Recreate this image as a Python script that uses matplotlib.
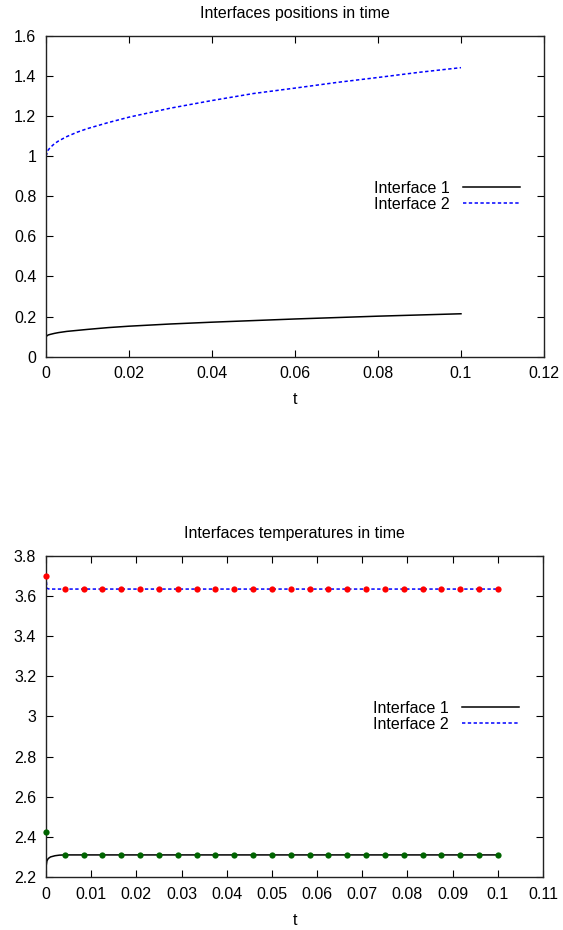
import matplotlib
matplotlib.use("Agg")
import matplotlib.pyplot as plt
from matplotlib.ticker import MultipleLocator, FuncFormatter

plt.rcParams['font.family'] = ['Liberation Sans', 'DejaVu Sans']

# ---- Top chart: interface positions ----
t_pos = [0, 0.0005, 0.001, 0.002, 0.003, 0.005, 0.0075, 0.01, 0.015, 0.02,
         0.03, 0.04, 0.05, 0.06, 0.07, 0.08, 0.09, 0.1]
pos_if1 = [0.100, 0.108, 0.111, 0.116, 0.120, 0.126, 0.131, 0.136, 0.145, 0.152,
           0.163, 0.172, 0.180, 0.188, 0.195, 0.202, 0.208, 0.214]
pos_if2 = [1.000, 1.030, 1.043, 1.062, 1.076, 1.098, 1.120, 1.138, 1.168, 1.195,
           1.240, 1.278, 1.313, 1.340, 1.368, 1.393, 1.419, 1.442]

# ---- Bottom chart: interface temperatures ----
t_temp = [0, 0.0002, 0.0005, 0.001, 0.002, 0.003, 0.004, 0.01, 0.05, 0.1]
temp_if1 = [2.25, 2.28, 2.292, 2.300, 2.306, 2.309, 2.310, 2.310, 2.310, 2.310]
temp_if2 = [3.70, 3.64, 3.636, 3.635, 3.635, 3.635, 3.635, 3.635, 3.635, 3.635]

t_pts = [0, 0.00417, 0.00833, 0.0125, 0.01667, 0.02083, 0.025, 0.02917, 0.03333,
         0.0375, 0.04167, 0.04583, 0.05, 0.05417, 0.05833, 0.0625, 0.06667,
         0.07083, 0.075, 0.07917, 0.08333, 0.0875, 0.09167, 0.09583, 0.1]
pts_if2 = [3.70] + [3.635] * 24
pts_if1 = [2.424] + [2.31] * 24

labels = ["Interface 1", "Interface 2"]

fig = plt.figure(figsize=(5.63, 9.30), dpi=100)
ax1 = fig.add_axes([0.0817, 0.6165, 0.8845, 0.3448])
ax2 = fig.add_axes([0.0817, 0.0570, 0.8828, 0.3452])

fs = 11.5
gfmt = FuncFormatter(lambda v, p: "%g" % round(v, 6))
dash = (0, (2.2, 1.6))

def style(ax, xmax, xstep, ymin, ymax, ystep):
    ax.set_xlim(0, xmax)
    ax.set_ylim(ymin, ymax)
    ax.xaxis.set_major_locator(MultipleLocator(xstep))
    ax.yaxis.set_major_locator(MultipleLocator(ystep))
    ax.xaxis.set_major_formatter(gfmt)
    ax.yaxis.set_major_formatter(gfmt)
    ax.tick_params(direction='in', top=True, right=True, length=5, width=0.8,
                   labelsize=fs, pad=7)
    for s in ax.spines.values():
        s.set_linewidth(1.0)
        s.set_color('#222222')
    ax.set_xlabel("t", fontsize=fs, labelpad=8)

ax1.plot(t_pos, pos_if1, color='black', lw=1.1, label=labels[0])
ax1.plot(t_pos, pos_if2, color='#0000ff', lw=1.1, linestyle=dash, label=labels[1])
style(ax1, 0.12, 0.02, 0, 1.6, 0.2)
ax1.set_title("Interfaces positions in time", fontsize=fs, pad=13)

ax2.plot(t_temp, temp_if1, color='black', lw=1.1, label=labels[0])
ax2.plot(t_temp, temp_if2, color='#0000ff', lw=1.1, linestyle=dash, label=labels[1])
ax2.plot(t_pts, pts_if2, 'o', color='#ff0000', ms=4.5, mec='none', clip_on=False, zorder=4)
ax2.plot(t_pts, pts_if1, 'o', color='#006400', ms=4.5, mec='none', clip_on=False, zorder=4)
style(ax2, 0.11, 0.01, 2.2, 3.8, 0.2)
ax2.set_title("Interfaces temperatures in time", fontsize=fs, pad=13)

for ax in (ax1, ax2):
    h, l = ax.get_legend_handles_labels()
    ax.legend(h[:2], l[:2], loc='center right', bbox_to_anchor=(0.968, 0.5),
              frameon=False, markerfirst=False, fontsize=fs, handlelength=3.6,
              handletextpad=0.8, labelspacing=0.05, borderpad=0)

fig.savefig("out.png", dpi=100)
